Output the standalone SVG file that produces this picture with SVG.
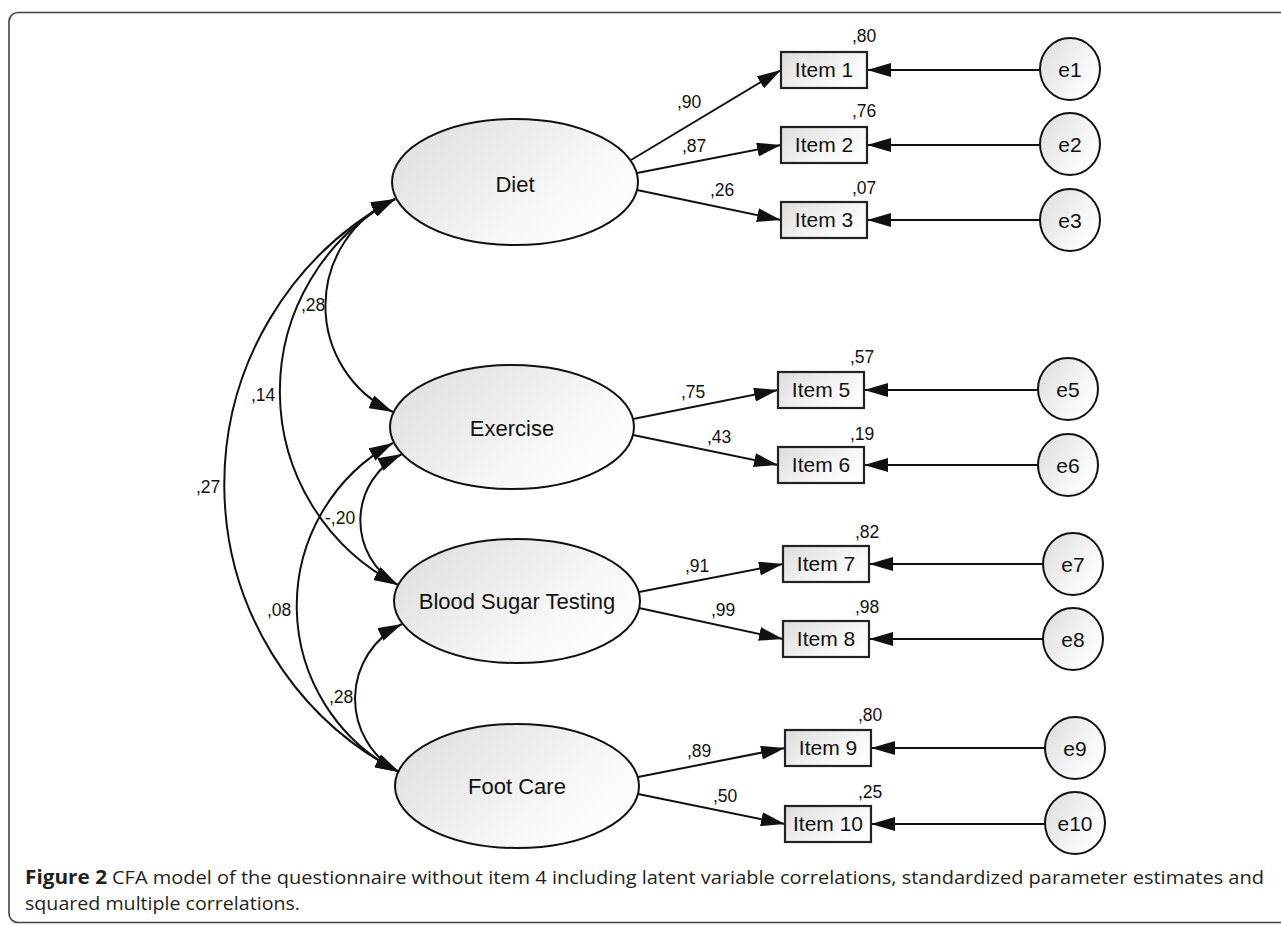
<svg xmlns="http://www.w3.org/2000/svg" width="1281" height="925" viewBox="0 0 1281 925">
<style>
.lat{stroke:#111;stroke-width:2;fill:url(#g)}
.box{stroke:#222;stroke-width:2.2;fill:url(#g)}
.lt{font-family:"Liberation Sans",Arial,sans-serif;font-size:22px;fill:#111;text-anchor:middle}
.it{font-family:"Liberation Sans",Arial,sans-serif;font-size:21px;fill:#111;text-anchor:middle}
.lb{font-family:"Liberation Sans",Arial,sans-serif;font-size:17.5px;fill:#111}
.cn{fill:none;stroke:#111;stroke-width:2;marker-end:url(#ah)}
.cv{fill:none;stroke:#111;stroke-width:2;marker-start:url(#ah);marker-end:url(#ah)}
.cap{font-family:"Open Sans","Noto Sans",sans-serif;font-size:19px;fill:#231f20}
</style>
<defs>
<linearGradient id="g" x1="0" y1="0" x2="1" y2="0.6">
<stop offset="0" stop-color="#dcdcdc"/>
<stop offset="0.75" stop-color="#f7f7f7"/>
<stop offset="1" stop-color="#fdfdfd"/>
</linearGradient>
<marker id="ah" viewBox="0 0 24 14" refX="24" refY="7" markerWidth="24" markerHeight="14" markerUnits="userSpaceOnUse" orient="auto-start-reverse">
<path d="M0,0 L24,7 L0,14 z" fill="#111"/>
</marker>
</defs>
<rect x="9" y="12.5" width="1290" height="910" rx="9" fill="none" stroke="#444" stroke-width="1.6"/>

<g id="connectors">
<line class="cn" x1="631" y1="160" x2="781" y2="70"/>
<line class="cn" x1="637" y1="173" x2="781" y2="145"/>
<line class="cn" x1="637" y1="190" x2="781" y2="220"/>
<line class="cn" x1="633" y1="419" x2="778" y2="390"/>
<line class="cn" x1="633" y1="435" x2="778" y2="465"/>
<line class="cn" x1="639" y1="592" x2="783" y2="564"/>
<line class="cn" x1="639" y1="608" x2="783" y2="639"/>
<line class="cn" x1="638" y1="777" x2="785" y2="748"/>
<line class="cn" x1="638" y1="794" x2="785" y2="824"/>
<line class="cn" x1="1040" y1="70" x2="867" y2="70"/>
<line class="cn" x1="1040" y1="145" x2="867" y2="145"/>
<line class="cn" x1="1040" y1="220" x2="867" y2="220"/>
<line class="cn" x1="1038" y1="390" x2="864" y2="390"/>
<line class="cn" x1="1038" y1="465" x2="864" y2="465"/>
<line class="cn" x1="1043" y1="564" x2="869" y2="564"/>
<line class="cn" x1="1043" y1="639" x2="869" y2="639"/>
<line class="cn" x1="1045" y1="748" x2="871" y2="748"/>
<line class="cn" x1="1045" y1="824" x2="871" y2="824"/>
<path class="cv" d="M395,199 A117,117 0 0 0 393,412"/>
<path class="cv" d="M395,199 A218,218 0 0 0 398,585"/>
<path class="cv" d="M395,199 A324,324 0 0 0 399,772"/>
<path class="cv" d="M402,454 A74,74 0 0 0 398,585"/>
<path class="cv" d="M393,443 A186,186 0 0 0 399,772"/>
<path class="cv" d="M402,624 A83,83 0 0 0 399,772"/>
<text class="lb" x="677" y="108">,90</text>
<text class="lb" x="682" y="152">,87</text>
<text class="lb" x="710" y="196">,26</text>
<text class="lb" x="681" y="398">,75</text>
<text class="lb" x="707" y="443">,43</text>
<text class="lb" x="685" y="572">,91</text>
<text class="lb" x="711" y="616">,99</text>
<text class="lb" x="687" y="757">,89</text>
<text class="lb" x="713" y="802">,50</text>
<text class="lb" x="301" y="311">,28</text>
<text class="lb" x="251" y="401">,14</text>
<text class="lb" x="196" y="493">,27</text>
<text class="lb" x="325" y="524">-,20</text>
<text class="lb" x="267" y="616">,08</text>
<text class="lb" x="329" y="703">,28</text>
</g>

<g id="diet"><ellipse class="lat" cx="515" cy="182" rx="123" ry="63"/><text class="lt" x="515" y="192">Diet</text></g>
<g id="exercise"><ellipse class="lat" cx="512" cy="427" rx="122" ry="62"/><text class="lt" x="512" y="436">Exercise</text></g>
<g id="bst"><ellipse class="lat" cx="517" cy="601" rx="123" ry="62"/><text class="lt" x="517" y="609">Blood Sugar Testing</text></g>
<g id="footcare"><ellipse class="lat" cx="517" cy="786" rx="122" ry="62"/><text class="lt" x="517" y="794">Foot Care</text></g>

<g id="item1"><rect class="box" x="781" y="52" width="86" height="36"/><text class="it" x="824" y="77">Item 1</text><text class="lb" x="852" y="42">,80</text></g>
<g id="item2"><rect class="box" x="781" y="127" width="86" height="36"/><text class="it" x="824" y="152">Item 2</text><text class="lb" x="852" y="117">,76</text></g>
<g id="item3"><rect class="box" x="781" y="202" width="86" height="36"/><text class="it" x="824" y="227">Item 3</text><text class="lb" x="852" y="194">,07</text></g>
<g id="item5"><rect class="box" x="778" y="372" width="86" height="36"/><text class="it" x="821" y="397">Item 5</text><text class="lb" x="850" y="363">,57</text></g>
<g id="item6"><rect class="box" x="778" y="447" width="86" height="36"/><text class="it" x="821" y="472">Item 6</text><text class="lb" x="850" y="440">,19</text></g>
<g id="item7"><rect class="box" x="783" y="546" width="86" height="36"/><text class="it" x="826" y="571">Item 7</text><text class="lb" x="855" y="538">,82</text></g>
<g id="item8"><rect class="box" x="783" y="621" width="86" height="36"/><text class="it" x="826" y="646">Item 8</text><text class="lb" x="855" y="613">,98</text></g>
<g id="item9"><rect class="box" x="785" y="730" width="86" height="36"/><text class="it" x="828" y="755">Item 9</text><text class="lb" x="858" y="721">,80</text></g>
<g id="item10"><rect class="box" x="785" y="806" width="86" height="36"/><text class="it" x="828" y="831">Item 10</text><text class="lb" x="858" y="798">,25</text></g>

<g id="e1"><ellipse class="lat" cx="1070" cy="69" rx="30" ry="31"/><text class="it" x="1070" y="77">e1</text></g>
<g id="e2"><ellipse class="lat" cx="1070" cy="144" rx="30" ry="31"/><text class="it" x="1070" y="152">e2</text></g>
<g id="e3"><ellipse class="lat" cx="1070" cy="220" rx="30" ry="31"/><text class="it" x="1070" y="228">e3</text></g>
<g id="e5"><ellipse class="lat" cx="1068" cy="389" rx="30" ry="31"/><text class="it" x="1068" y="397">e5</text></g>
<g id="e6"><ellipse class="lat" cx="1068" cy="465" rx="30" ry="31"/><text class="it" x="1068" y="473">e6</text></g>
<g id="e7"><ellipse class="lat" cx="1073" cy="564" rx="30" ry="31"/><text class="it" x="1073" y="572">e7</text></g>
<g id="e8"><ellipse class="lat" cx="1073" cy="639" rx="30" ry="31"/><text class="it" x="1073" y="647">e8</text></g>
<g id="e9"><ellipse class="lat" cx="1075" cy="748" rx="30" ry="31"/><text class="it" x="1075" y="756">e9</text></g>
<g id="e10"><ellipse class="lat" cx="1075" cy="823" rx="30" ry="31"/><text class="it" x="1075" y="831">e10</text></g>

<g id="caption">
<text class="cap" x="25" y="884" font-weight="bold" textLength="82" lengthAdjust="spacingAndGlyphs">Figure 2</text>
<text class="cap" x="112" y="884" textLength="1152" lengthAdjust="spacingAndGlyphs">CFA model of the questionnaire without item 4 including latent variable correlations, standardized parameter estimates and</text>
<text class="cap" x="25" y="910" textLength="275" lengthAdjust="spacingAndGlyphs">squared multiple correlations.</text>
</g>
</svg>
